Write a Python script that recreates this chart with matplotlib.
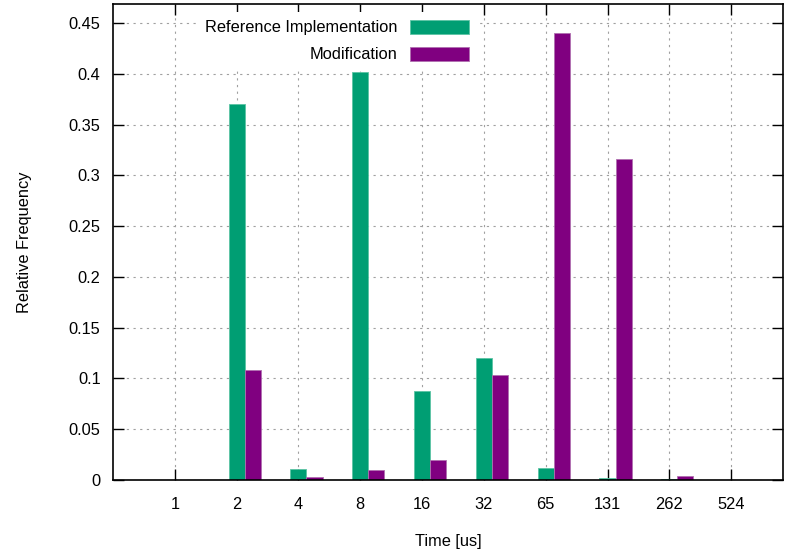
import matplotlib.pyplot as plt
import numpy as np

plt.rcParams['font.family'] = ['Liberation Sans', 'DejaVu Sans']

# data
categories = ["1", "2", "4", "8", "16", "32", "65", "131", "262", "524"]
reference = [0.0, 0.370, 0.011, 0.402, 0.088, 0.120, 0.012, 0.0015, 0.0008, 0.0]
modification = [0.0, 0.108, 0.003, 0.010, 0.020, 0.103, 0.440, 0.316, 0.004, 0.0]
yticks = [0, 0.05, 0.1, 0.15, 0.2, 0.25, 0.3, 0.35, 0.4, 0.45]
ytick_labels = ["0", "0.05", "0.1", "0.15", "0.2", "0.25", "0.3", "0.35", "0.4", "0.45"]

x = np.arange(len(categories))
w = 0.26
fs = 11.8

fig = plt.figure(figsize=(7.85, 5.53), dpi=100)
ax = fig.add_axes([0.144, 0.132, 0.8535, 0.8608])

ax.bar(x, reference, width=w, color='#009e73', edgecolor='#5cc4a4', linewidth=0.6,
       label='Reference Implementation', zorder=3)
ax.bar(x + w, modification, width=w, color='#800080', edgecolor='#b070b0', linewidth=0.6,
       label='Modification', zorder=3)

ax.set_xlim(-1, 9.84)
ax.set_ylim(0, 0.4687)
ax.set_xticks(x)
ax.set_xticklabels(categories)
ax.set_yticks(yticks)
ax.set_yticklabels(ytick_labels)

# gnuplot-like look: inward ticks on all sides, dotted grid
ax.tick_params(direction='in', length=8, width=1, top=True, right=True,
               labelsize=fs, pad=9)
ax.tick_params(axis='x', pad=12)
ax.grid(True, linestyle=(0, (2, 4)), color='#a0a0a0', linewidth=0.8, zorder=1)
for s in ax.spines.values():
    s.set_linewidth(1.2)
    s.set_zorder(5)

ax.set_xlabel('Time [us]', fontsize=fs, labelpad=16)
ax.set_ylabel('Relative Frequency', fontsize=fs, labelpad=26)

leg = ax.legend(loc='upper right', bbox_to_anchor=(0.554, 1.0), markerfirst=False,
                fontsize=fs, handlelength=3.6, handleheight=0.95, labelspacing=0.7,
                handletextpad=0.75, borderpad=0.45, fancybox=False, framealpha=1.0,
                edgecolor='none')
leg.set_zorder(4)

plt.savefig("out.png", dpi=100)
